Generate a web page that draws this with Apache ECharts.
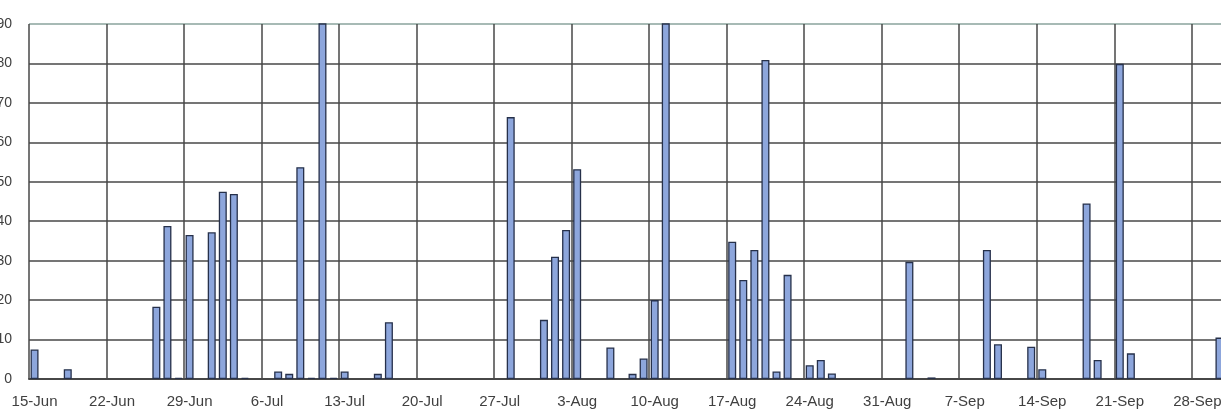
<!DOCTYPE html>
<html>
<head>
<meta charset="utf-8">
<script src="https://cdn.jsdelivr.net/npm/echarts@6/dist/echarts.min.js"></script>
<style>
html,body{margin:0;padding:0;background:#fff;}
#chart{width:1221px;height:416px;}
</style>
</head>
<body>
<div id="chart"></div>
<script>
// Daily series, 15-Jun to 30-Sep (108 days)
var startDate = [2000, 5, 15];
var dayCount = 108;
var monthNames = ['Jan','Feb','Mar','Apr','May','Jun','Jul','Aug','Sep','Oct','Nov','Dec'];

var values = [
  7.5, 0, 0, 2.5, 0, 0, 0,
  0, 0, 0, 0, 18.3, 38.8, 0.3,
  36.5, 0, 37.2, 47.5, 46.9, 0.3, 0,
  0, 1.9, 1.3, 53.7, 0.3, 95, 0.3,
  1.9, 0, 0, 1.3, 14.4, 0, 0,
  0, 0, 0, 0, 0, 0, 0,
  0, 66.4, 0, 0, 15.0, 31.0, 37.8,
  53.2, 0, 0, 8.0, 0, 1.3, 5.2,
  20.0, 95, 0, 0, 0, 0, 0,
  34.8, 25.1, 32.7, 80.9, 1.9, 26.4, 0,
  3.5, 4.8, 1.4, 0, 0, 0, 0,
  0, 0, 29.7, 0, 0.4, 0, 0,
  0, 0, 32.7, 8.8, 0, 0, 8.2,
  2.5, 0, 0, 0, 44.5, 4.8, 0,
  79.9, 6.5, 0, 0, 0, 0, 0,
  0, 0, 10.5
];

var yMin = 0, yMax = 90, yStep = 10;

var categories = [];
for (var i = 0; i < dayCount; i++) {
  var d = new Date(Date.UTC(startDate[0], startDate[1], startDate[2] + i));
  categories.push(d.getUTCDate() + '-' + monthNames[d.getUTCMonth()]);
}

// empty days draw no bar
var barData = values.map(function (v) { return v === 0 ? '-' : v; });

var gridColor = '#474747';
var splitColors = [];
for (var k = 0; k < 9; k++) splitColors.push(gridColor);
splitColors.push('#8aa39d');

var chart = echarts.init(document.getElementById('chart'), null, {renderer: 'canvas'});
chart.setOption({
  animation: false,
  backgroundColor: '#ffffff',
  grid: {left: 29, right: -4, top: 24, bottom: 37, containLabel: false, outerBoundsMode: 'none'},
  xAxis: {
    type: 'category',
    data: categories,
    boundaryGap: true,
    axisLine: {show: true, lineStyle: {color: gridColor, width: 2}},
    axisTick: {show: false},
    axisLabel: {
      interval: 6,
      margin: 15,
      color: '#404040',
      fontSize: 15,
      fontFamily: 'Liberation Sans, Arial, sans-serif'
    },
    splitLine: {show: true, interval: 6, lineStyle: {color: gridColor, width: 1.5}}
  },
  yAxis: {
    type: 'value',
    min: yMin, max: yMax, interval: yStep,
    axisLine: {show: false},
    axisTick: {show: false},
    axisLabel: {
      margin: 17,
      color: '#404040',
      fontSize: 14,
      fontFamily: 'Liberation Sans, Arial, sans-serif',
      padding: [5, 0, 0, 0]
    },
    splitLine: {show: true, lineStyle: {color: splitColors, width: 1.5}}
  },
  series: [{
    type: 'bar',
    data: barData,
    barWidth: 8,
    clip: true,
    itemStyle: {color: '#8da6dc', borderColor: '#26304a', borderWidth: 1.3}
  }]
});
</script>
</body>
</html>
